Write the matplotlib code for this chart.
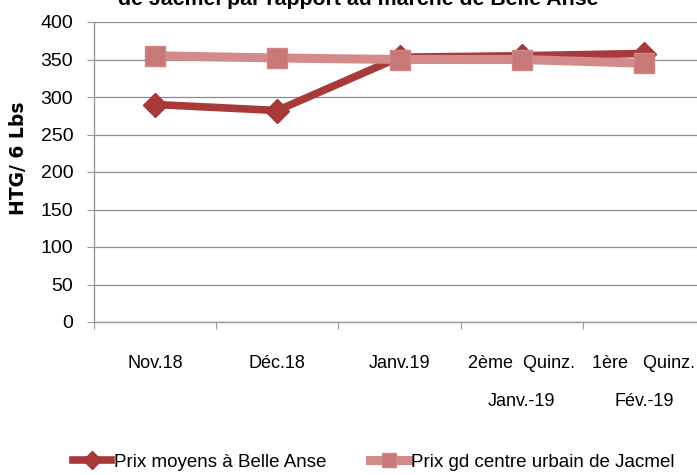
import matplotlib.pyplot as plt
from matplotlib import font_manager

# pick a narrow font if there is one
names = set(f.name for f in font_manager.fontManager.ttflist)
fam = 'Liberation Sans Narrow' if 'Liberation Sans Narrow' in names else 'Liberation Sans'
plt.rcParams['font.family'] = [fam, 'DejaVu Sans']

categories = ['Nov.18', 'Déc.18', 'Janv.19', '2ème  Quinz.\n\nJanv.-19', '1ère   Quinz.\n\nFév.-19']
belle_anse = [290, 282, 353, 355, 358]
jacmel = [355, 352, 350, 350, 345]
title = 'de Jacmel par rapport au marché de Belle Anse'

fig = plt.figure(figsize=(6.97, 4.75), dpi=100)
ax = fig.add_axes([94/697, 1-322/475, 611/697, 300/475])

x = list(range(len(categories)))
ax.plot(x, belle_anse, color='#A83A3A', lw=5.5, marker='D', ms=12,
        mec='#A33535', mfc='#A83A3A', label='Prix moyens à Belle Anse', zorder=3)
ax.plot(x, jacmel, color='#D38A8A', lw=6.5, marker='s', ms=14,
        mec='#D08585', mfc='#C97878', label='Prix gd centre urbain de Jacmel', zorder=4)

ax.set_xlim(-0.5, len(categories)-0.5)
ax.set_ylim(0, 400)
ax.set_yticks(range(0, 401, 50))
ax.set_xticks([i-0.5 for i in range(len(categories)+1)], minor=False)
ax.set_xticklabels([])
ax.set_xticks(x, minor=True)
ax.set_xticklabels(categories, minor=True, fontsize=13, linespacing=1.15)
ax.tick_params(axis='x', which='minor', length=0, pad=24)
ax.tick_params(axis='x', which='major', length=5, color='#999999', direction='out')
ax.tick_params(axis='y', length=5, color='#999999', labelsize=14, pad=10)
ax.grid(axis='y', color='#8c8c8c', lw=0.9)
ax.set_axisbelow(True)
for s in ['top', 'right']:
    ax.spines[s].set_visible(False)
for s in ['left', 'bottom']:
    ax.spines[s].set_color('#999999')
    ax.spines[s].set_linewidth(1.0)

ax.set_ylabel('HTG/ 6 Lbs', fontsize=13.5, fontweight='bold', family='DejaVu Sans')
ax.yaxis.set_label_coords(-0.108, 0.545)

fig.text(0.514, 1 - 5/475, title, ha='center', va='baseline',
         fontsize=15.3, fontweight='bold')

fig.legend(loc='center', bbox_to_anchor=(374/697, 1 - 462/475), ncol=2, frameon=False,
           fontsize=13.5, handlelength=2.0, columnspacing=2.3, handletextpad=0.2,
           markerscale=0.75)

fig.savefig('out.png', dpi=100)
